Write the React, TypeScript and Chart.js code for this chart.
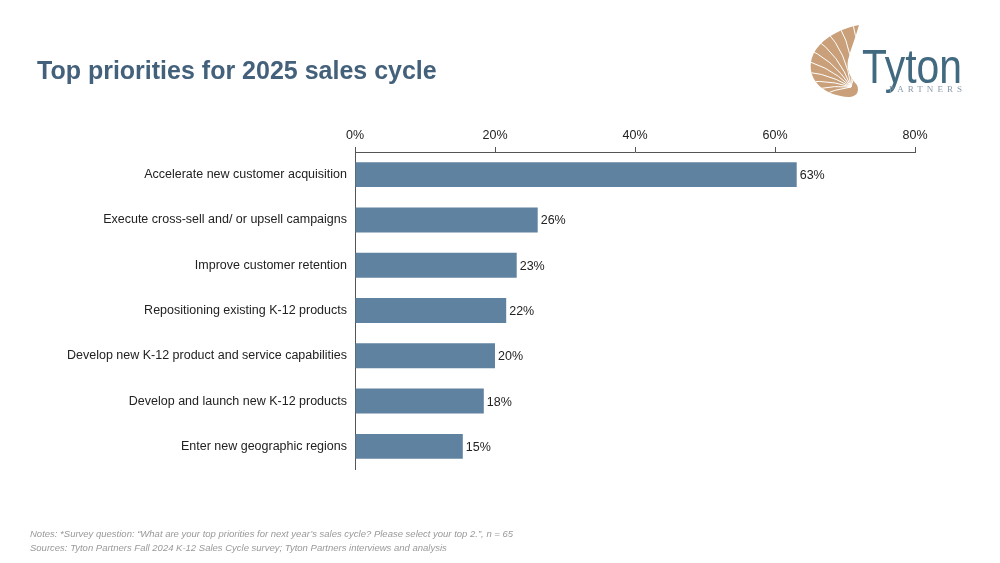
import React, { useEffect, useRef } from "react";
import { Chart, registerables } from "chart.js";

Chart.register(...registerables);

const categories = [
  "Accelerate new customer acquisition",
  "Execute cross-sell and/ or upsell campaigns",
  "Improve customer retention",
  "Repositioning existing K-12 products",
  "Develop new K-12 product and service capabilities",
  "Develop and launch new K-12 products",
  "Enter new geographic regions",
];
const values = [63.1, 26.1, 23.1, 21.6, 20.0, 18.4, 15.4];
const valueText = ["63%", "26%", "23%", "22%", "20%", "18%", "15%"];
const xTicks = [0, 20, 40, 60, 80];

const FONT = "'Liberation Sans', Arial, sans-serif";

const valueLabels = {
  id: "valueLabels",
  afterDatasetsDraw(chart: any) {
    const ctx = chart.ctx;
    const meta = chart.getDatasetMeta(0);
    ctx.save();
    ctx.font = `12.5px ${FONT}`;
    ctx.fillStyle = "#222222";
    ctx.textBaseline = "middle";
    ctx.textAlign = "left";
    meta.data.forEach((bar: any, i: number) => {
      ctx.fillText(valueText[i], bar.x + 3, bar.y + 1);
    });
    ctx.restore();
  },
};

const SHELL =
  "M 849 97 C 826 96 808 82 811 62 C 814 44 834 30 859 25 C 856 36 851 48 848 60 C 846 70 851 79 857 85 C 860 92 856 97 849 97 Z";

function Logo() {
  const ridges = [];
  const cx = 851;
  const cy = 87;
  const angles = [-205, -192, -179, -166, -153, -140, -127, -114, -101, -88];
  angles.forEach((deg, i) => {
    const a = deg * (Math.PI / 180);
    const r = 62;
    const ex = cx + Math.cos(a) * r;
    const ey = cy + Math.sin(a) * r;
    const ca = a + 0.3;
    const qx = cx + Math.cos(ca) * r * 0.55;
    const qy = cy + Math.sin(ca) * r * 0.55;
    ridges.push(
      <path
        key={i}
        d={`M ${cx} ${cy} Q ${qx} ${qy} ${ex} ${ey}`}
        stroke="#ffffff"
        strokeWidth={1}
        fill="none"
      />
    );
  });
  return (
    <svg
      width={1000}
      height={563}
      style={{ position: "absolute", left: 0, top: 0, pointerEvents: "none" }}
    >
      <defs>
        <clipPath id="shellClip">
          <path d={SHELL} />
        </clipPath>
      </defs>
      <path d={SHELL} fill="#c9a07a" />
      <g clipPath="url(#shellClip)">{ridges}</g>
      <text
        x={862}
        y={83}
        fontFamily={FONT}
        fontSize={49}
        fill="#41697f"
        textLength={100}
        lengthAdjust="spacingAndGlyphs"
      >
        Tyton
      </text>
      <text
        x={889}
        y={92}
        fontFamily="'Liberation Serif', serif"
        fontSize={9}
        fill="#8a9aa8"
        textLength={73}
        lengthAdjust="spacing"
      >
        PARTNERS
      </text>
    </svg>
  );
}

export default function App() {
  const ref = useRef<HTMLCanvasElement>(null);
  useEffect(() => {
    if (!ref.current) return;
    const chart = new Chart(ref.current, {
      type: "bar",
      data: {
        labels: categories,
        datasets: [
          {
            data: values,
            backgroundColor: "#5f82a0",
            borderWidth: 0,
            barPercentage: 0.55,
            categoryPercentage: 1,
          },
        ],
      },
      options: {
        indexAxis: "y",
        responsive: false,
        animation: false,
        layout: { padding: { left: 0, right: 85, top: 0, bottom: 94 } },
        plugins: {
          legend: { display: false },
          tooltip: { enabled: false },
        },
        scales: {
          x: {
            position: "top",
            min: 0,
            max: 80,
            afterBuildTicks(scale: any) {
              scale.ticks = xTicks.map((v) => ({ value: v }));
            },
            afterFit(scale: any) {
              scale.height = 152;
            },
            ticks: {
              callback: (v: any) => `${v}%`,
              color: "#222222",
              font: { family: FONT, size: 12.5 },
              padding: 4,
              maxRotation: 0,
            },
            grid: {
              drawOnChartArea: false,
              drawTicks: true,
              tickLength: 5,
              color: "#555555",
            },
            border: { display: true, color: "#555555", width: 1 },
          },
          y: {
            afterFit(scale: any) {
              scale.width = 355;
            },
            ticks: {
              color: "#222222",
              font: { family: FONT, size: 12.5 },
              padding: 8,
            },
            grid: { display: false, drawTicks: false },
            border: { display: true, color: "#555555", width: 1 },
          },
        },
      },
      plugins: [valueLabels],
    });
    return () => chart.destroy();
  }, []);

  return (
    <div
      style={{
        position: "fixed",
        left: 0,
        top: 0,
        width: 1000,
        height: 563,
        background: "#ffffff",
        fontFamily: FONT,
      }}
    >
      <canvas
        ref={ref}
        width={1000}
        height={563}
        style={{ position: "absolute", left: 0, top: 0 }}
      />
      <div
        style={{
          position: "absolute",
          left: 37,
          top: 56,
          fontSize: 25,
          fontWeight: "bold",
          color: "#44617b",
          whiteSpace: "nowrap",
        }}
      >
        Top priorities for 2025 sales cycle
      </div>
      <div
        style={{
          position: "absolute",
          left: 30,
          top: 527,
          fontSize: 9.5,
          fontStyle: "italic",
          color: "#999999",
          lineHeight: "14px",
          whiteSpace: "nowrap",
        }}
      >
        <div>
          Notes: *Survey question: “What are your top priorities for next year’s sales cycle? Please select your top 2.”, n = 65
        </div>
        <div>
          Sources: Tyton Partners Fall 2024 K-12 Sales Cycle survey; Tyton Partners interviews and analysis
        </div>
      </div>
      <Logo />
    </div>
  );
}
